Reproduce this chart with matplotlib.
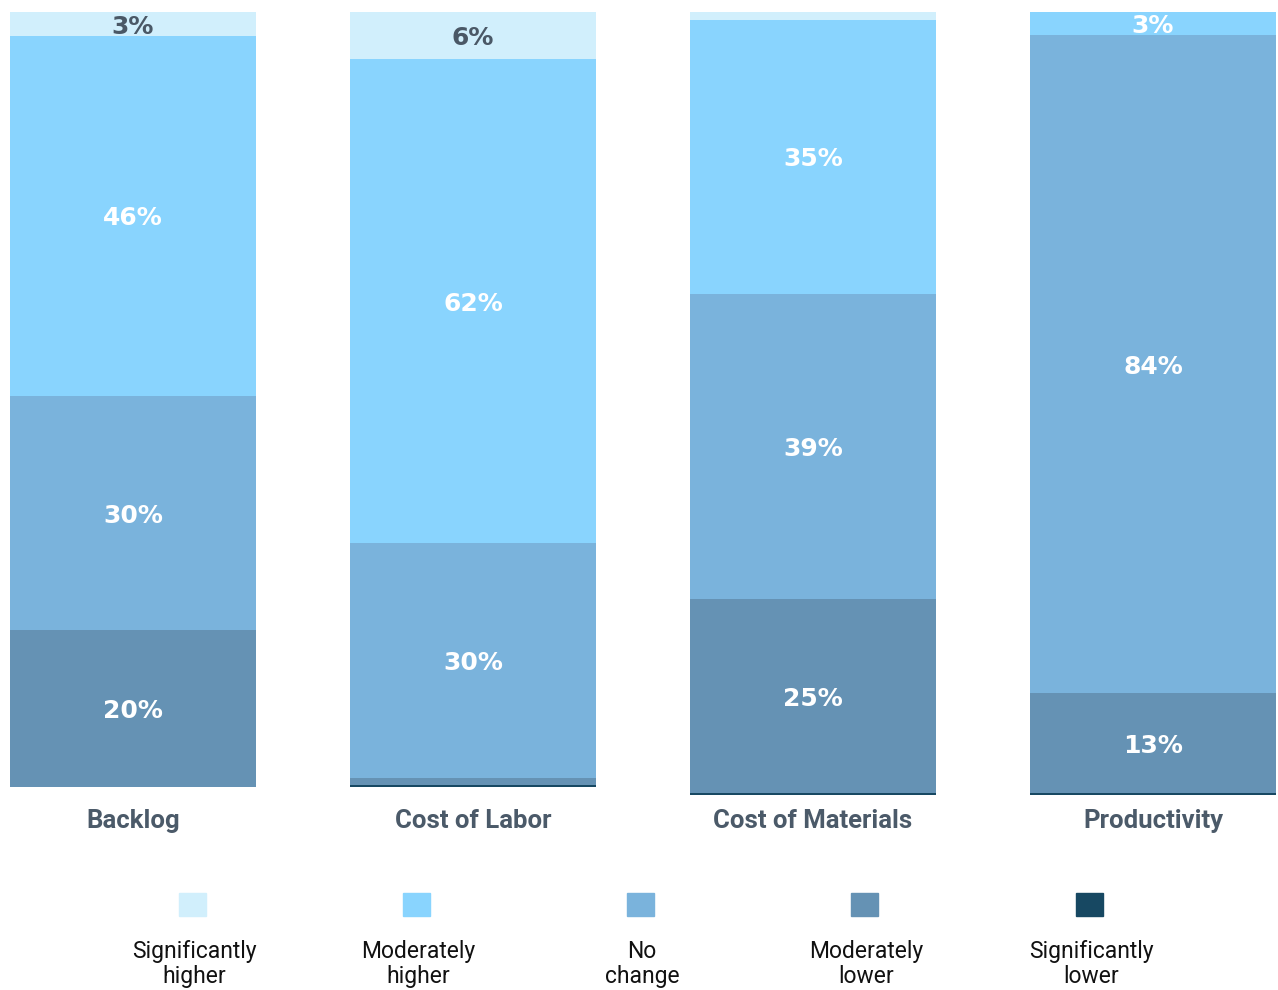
import numpy as np
import matplotlib.pyplot as plt
from matplotlib.patches import Rectangle

categories = ['Backlog', 'Cost of Labor', 'Cost of Materials', 'Productivity']
levels = ['Significantly\nhigher', 'Moderately\nhigher', 'No\nchange',
          'Moderately\nlower', 'Significantly\nlower']
colors = ['#D1EFFC', '#89D4FE', '#7AB3DC', '#6592B4', '#174862']

# percent of responses, bottom of stack is "Significantly lower"
sig_higher = [3.1, 6.1, 1.0, 0.0]
mod_higher = [46.4, 62.4, 35.0, 3.0]
no_change = [30.3, 30.3, 39.0, 84.0]
mod_lower = [20.2, 0.9, 24.8, 12.8]
sig_lower = [0.0, 0.3, 0.2, 0.2]

series = [sig_higher, mod_higher, no_change, mod_lower, sig_lower]

W, H = 1278, 990
fig = plt.figure(figsize=(W / 100, H / 100), dpi=100)

# pixel boxes (left, top, right, bottom) of each bar panel
boxes = [(10, 12, 256, 787), (350, 12, 596, 787),
         (690, 12, 936, 795), (1030, 12, 1276, 795)]

for i, cat in enumerate(categories):
    l, t, r, b = boxes[i]
    ax = fig.add_axes([l / W, 1 - b / H, (r - l) / W, (b - t) / H])
    bottom = 0
    # draw from bottom (sig lower) to top (sig higher)
    for k in range(len(series) - 1, -1, -1):
        v = series[k][i]
        ax.bar(0, v, width=1, bottom=bottom, color=colors[k], linewidth=0)
        if v >= 2.5:
            tc = '#4A5866' if k == 0 else 'white'
            ax.text(0, bottom + v / 2, f'{round(v)}%', ha='center',
                    va='center_baseline', fontsize=18, fontweight='bold', color=tc)
        bottom += v
    ax.set_xlim(-0.5, 0.5)
    ax.set_ylim(0, bottom)
    ax.axis('off')
    fig.text((l + r) / 2 / W, 1 - 821 / H, cat, ha='center', va='center',
             fontsize=18.5, fontweight='bold', family='Roboto', color='#4B5A69')

# legend: swatch above two-line label
lx = [192, 416, 640, 864, 1089]
for j, lab in enumerate(levels):
    fig.patches.append(Rectangle(((lx[j] - 13.5) / W, 1 - 916 / H), 27 / W, 23 / H,
                                 transform=fig.transFigure, color=colors[j]))
    fig.text((lx[j] + 2) / W, 1 - 964 / H, lab, ha='center', va='center',
             fontsize=16.5, family='Roboto', color='#111111', linespacing=1.15)

plt.savefig('out.png', dpi=100)
